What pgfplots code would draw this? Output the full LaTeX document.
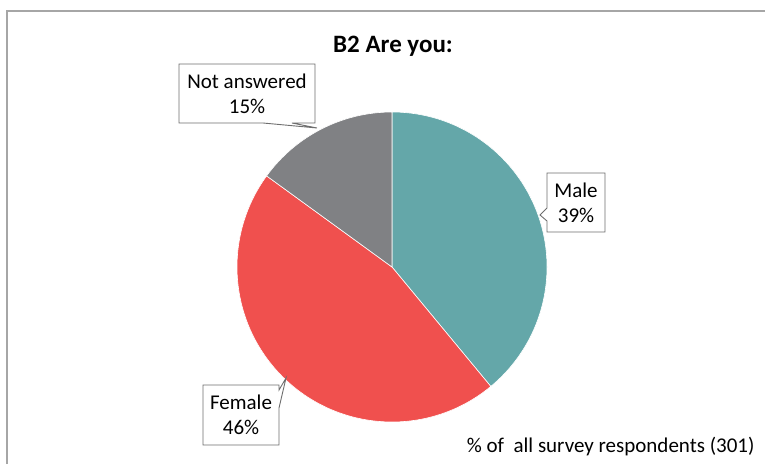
\documentclass[border=0pt]{standalone}
\usepackage{fontspec}
\setmainfont{Carlito}
\usepackage{pgfplots}
\pgfplotsset{compat=1.18}

\definecolor{male}{HTML}{64A7A9}
\definecolor{female}{HTML}{F0504E}
\definecolor{notans}{HTML}{808184}
\definecolor{frame}{HTML}{A6A6A6}
\definecolor{callout}{HTML}{6E6E6E}

\begin{document}
\begin{tikzpicture}
\begin{axis}[
    scale only axis,
    width=765pt, height=464pt,
    xmin=0, xmax=765, ymin=0, ymax=464,
    hide axis,
    clip=false,
    anchor=south west,
    at={(0pt,0pt)},
]
    % chart frame (top and left edges visible)
    \draw[frame, line width=1.4pt] (axis cs:7,0) -- (axis cs:7,453) -- (axis cs:765,453);

    % pie: shares in percent, clockwise from 12 o'clock
    \def\cx{392}\def\cy{197}\def\r{155}
    \pgfmathsetmacro{\aa}{90}
    \pgfmathsetmacro{\ab}{90-39*3.6}
    \pgfmathsetmacro{\ac}{\ab-46*3.6}
    \pgfmathsetmacro{\ad}{\ac-15*3.6}
    \fill[male, draw=white, line width=0.6pt] (axis cs:\cx,\cy) -- ++(\aa:\r pt) arc[start angle=\aa, end angle=\ab, radius=\r pt] -- cycle;
    \fill[female, draw=white, line width=0.6pt] (axis cs:\cx,\cy) -- ++(\ab:\r pt) arc[start angle=\ab, end angle=\ac, radius=\r pt] -- cycle;
    \fill[notans, draw=white, line width=0.6pt] (axis cs:\cx,\cy) -- ++(\ac:\r pt) arc[start angle=\ac, end angle=\ad, radius=\r pt] -- cycle;

    % callouts
    \filldraw[fill=white, draw=callout, line width=0.9pt]
        (axis cs:179,400) -- (axis cs:315,400) -- (axis cs:315,341) -- (axis cs:292,341)
        -- (axis cs:317,336) -- (axis cs:263,341) -- (axis cs:179,341) -- cycle;
    \filldraw[fill=white, draw=callout, line width=0.9pt]
        (axis cs:547,291) -- (axis cs:605,291) -- (axis cs:605,232) -- (axis cs:547,232)
        -- (axis cs:547,243) -- (axis cs:540,249) -- (axis cs:547,256) -- cycle;
    \filldraw[fill=white, draw=callout, line width=0.9pt]
        (axis cs:203,79) -- (axis cs:279,79) -- (axis cs:279,74) -- (axis cs:286,86)
        -- (axis cs:279,56) -- (axis cs:279,19) -- (axis cs:203,19) -- cycle;

    \node[align=center, font=\fontsize{21}{25}\selectfont] at (axis cs:247,370) {Not answered\\15\%};
    \node[align=center, font=\fontsize{21}{25}\selectfont] at (axis cs:576,261.5) {Male\\39\%};
    \node[align=center, font=\fontsize{21}{25}\selectfont] at (axis cs:241,49) {Female\\46\%};

    % title and footnote
    \node[font=\fontsize{25}{29}\selectfont\bfseries] at (axis cs:393,418) {B2 Are you:};
    \node[anchor=east, font=\fontsize{21}{25}\selectfont] at (axis cs:758,17) {\% of\ \ all survey respondents (301)};
\end{axis}
\pgfresetboundingbox
\path[use as bounding box] (0pt,0pt) rectangle (765pt,464pt);
\end{tikzpicture}
\end{document}
